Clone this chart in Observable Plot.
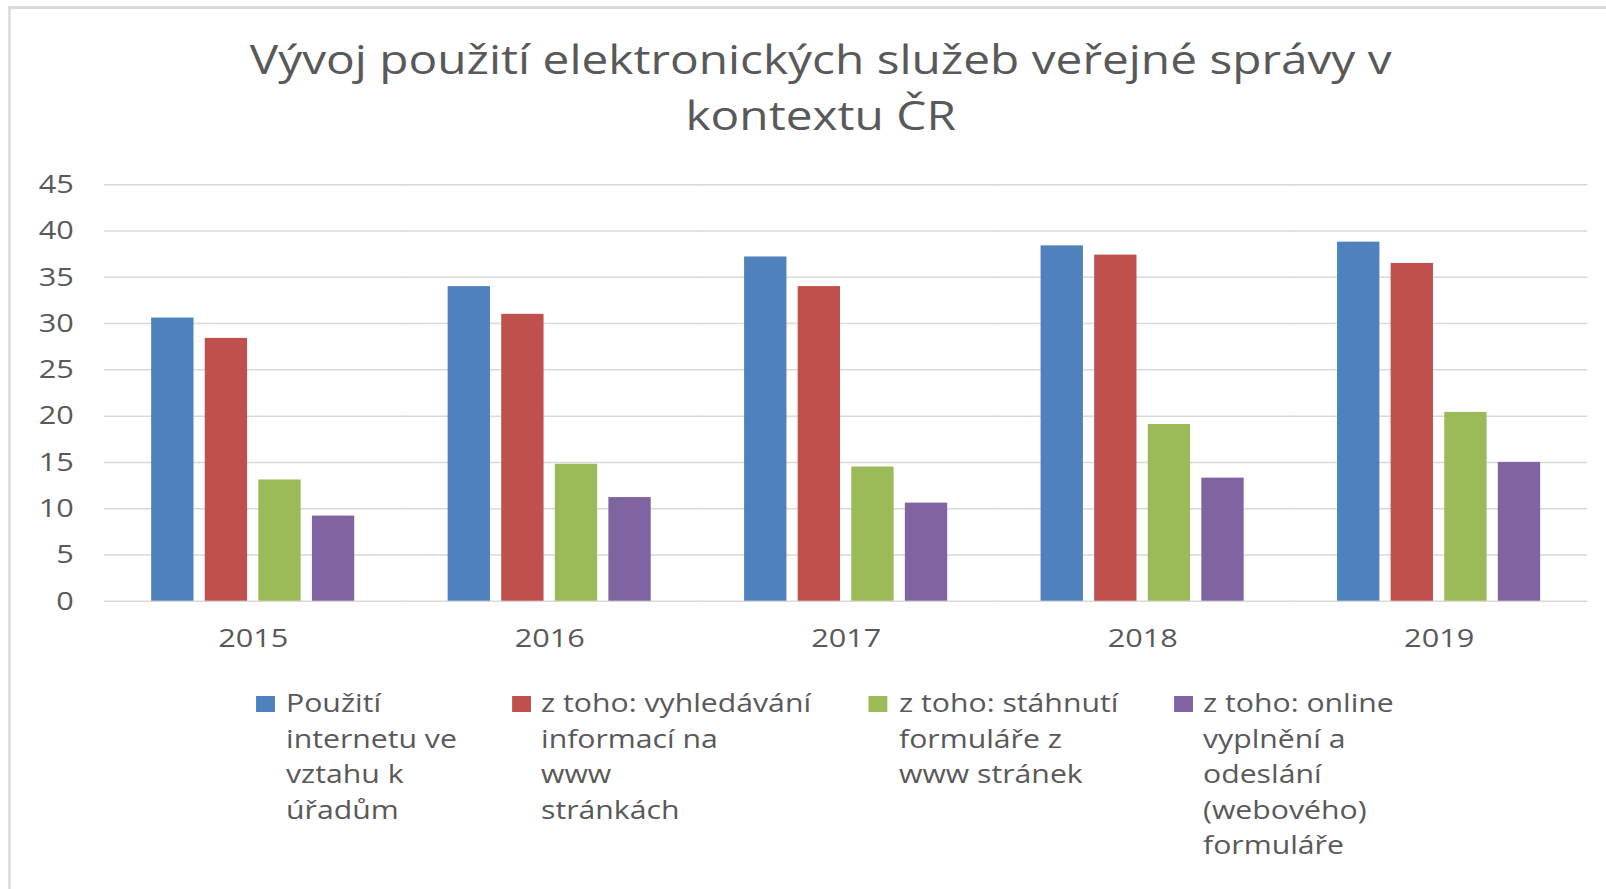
<!DOCTYPE html>
<html>
<head>
<meta charset="utf-8">
<script src="https://cdn.jsdelivr.net/npm/d3@7"></script>
<script src="https://cdn.jsdelivr.net/npm/@observablehq/plot@0.6"></script>
<style>
html,body{margin:0;padding:0;background:#fff;overflow:hidden;}
#wrap{position:relative;width:1361px;height:889px;transform:scaleX(1.18);transform-origin:0 0;font-family:"Open Sans",sans-serif;color:#595959;overflow:hidden;}
#frame{position:absolute;left:7px;top:6px;right:-20px;bottom:-20px;border-top:3px solid #d9d9d9;border-left:2.5px solid #d9d9d9;}
#title{position:absolute;top:31px;left:30px;width:1331px;text-align:center;font-size:40.5px;line-height:56px;}
#chart{position:absolute;left:0;top:150px;}
.item{position:absolute;top:685px;font-size:25.6px;line-height:35.5px;white-space:nowrap;}
.sw{position:absolute;width:16px;height:16px;top:11px;}
</style>
</head>
<body>
<div id="wrap">
  <div id="frame"></div>
  <div id="title">Vývoj použití elektronických služeb veřejné správy v<br>kontextu ČR</div>
  <div id="chart"></div>
  <div id="legend"></div>
</div>
<script>
// ---- data ----
const years = ["2015", "2016", "2017", "2018", "2019"];
const series = [
  "Použití internetu ve vztahu k úřadům",
  "z toho: vyhledávání informací na www stránkách",
  "z toho: stáhnutí formuláře z www stránek",
  "z toho: online vyplnění a odeslání (webového) formuláře"
];
const seriesLines = [
  ["Použití", "internetu ve", "vztahu k", "úřadům"],
  ["z toho: vyhledávání", "informací na", "www", "stránkách"],
  ["z toho: stáhnutí", "formuláře z", "www stránek"],
  ["z toho: online", "vyplnění a", "odeslání", "(webového)", "formuláře"]
];
const pouziti     = [30.6, 34.0, 37.2, 38.4, 38.8];
const vyhledavani = [28.4, 31.0, 34.0, 37.4, 36.5];
const stahnuti    = [13.1, 14.8, 14.5, 19.1, 20.4];
const online      = [9.2, 11.2, 10.6, 13.3, 15.0];
const yTicks = [0, 5, 10, 15, 20, 25, 30, 35, 40, 45];
const colors = ["#4f81bd", "#c0504d", "#9bbb59", "#8064a2"];

const values = [pouziti, vyhledavani, stahnuti, online];
const table = [];
years.forEach((yr, j) => series.forEach((s, i) => table.push({year: yr, series: s, value: values[i][j]})));

const gridExtend = -40; // gridlines reach across the gaps between year groups
const chart = Plot.plot({
  width: 1361,
  height: 520,
  marginLeft: 88.4,
  marginRight: 16.1,
  marginTop: 34.3,
  marginBottom: 69.3,
  style: {fontFamily: '"Open Sans", sans-serif', fontSize: "26px", color: "#595959", background: "transparent", overflow: "visible"},
  fx: {domain: years, paddingInner: 0.315, paddingOuter: 0.158, round: false, label: null, tickSize: 0, tickPadding: 27, axis: "bottom"},
  x: {domain: series, paddingInner: 0.21, paddingOuter: 0, round: false, axis: null},
  y: {domain: [0, 45], ticks: yTicks, tickSize: 0, tickPadding: 66, label: null},
  color: {domain: series, range: colors},
  marks: [
    Plot.ruleY(yTicks, {stroke: "#d9d9d9", strokeWidth: 1.5, insetLeft: gridExtend, insetRight: gridExtend}),
    Plot.barY(table, {fx: "year", x: "series", y: "value", fill: "series"})
  ]
});
document.getElementById("chart").appendChild(chart);

// ---- legend ----
const swLeft = [217, 433.6, 736, 995];
const txtLeft = [242.4, 458.5, 761.9, 1019.5];
const legend = document.getElementById("legend");
series.forEach((s, i) => {
  const item = document.createElement("div");
  item.className = "item";
  item.style.left = txtLeft[i] + "px";
  const sw = document.createElement("div");
  sw.className = "sw";
  sw.style.left = (swLeft[i] - txtLeft[i]) + "px";
  sw.style.background = colors[i];
  item.appendChild(sw);
  seriesLines[i].forEach(line => {
    const d = document.createElement("div");
    d.textContent = line;
    item.appendChild(d);
  });
  legend.appendChild(item);
});
</script>
</body>
</html>
